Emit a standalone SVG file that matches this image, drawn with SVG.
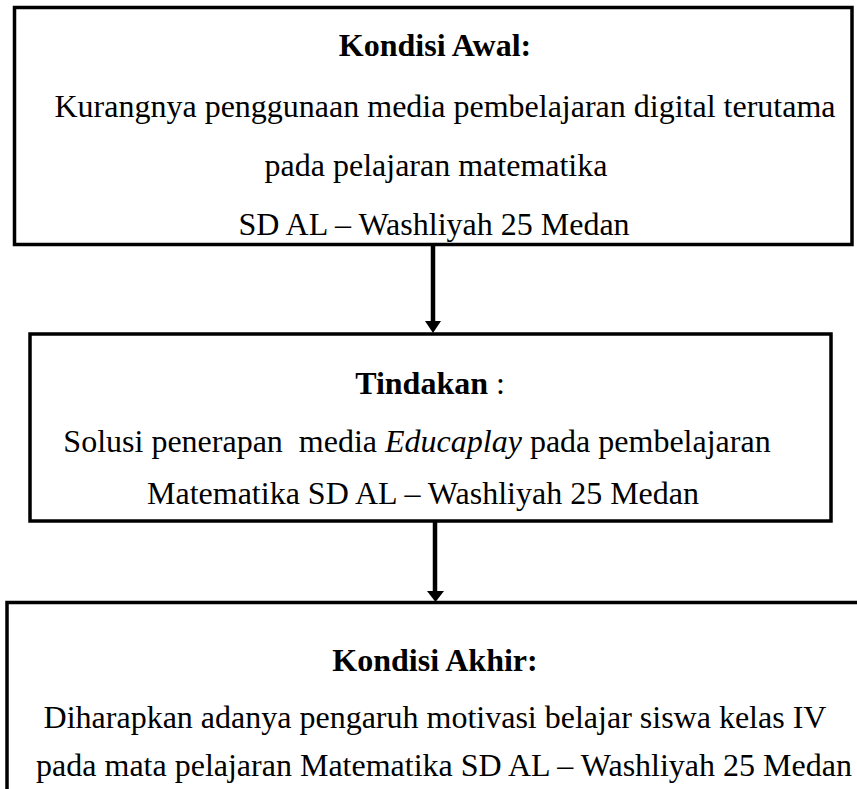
<svg xmlns="http://www.w3.org/2000/svg" width="857" height="789" viewBox="0 0 857 789">
<style>
.box{fill:#fff;stroke:#000;stroke-width:3.5}
.t{font-family:"Liberation Serif","Times New Roman",serif;font-size:32px;fill:#000;text-anchor:middle}
.b{font-weight:bold}
.edge{stroke:#000;stroke-width:4.5;fill:none}
</style>
<defs>
<marker id="ah" markerUnits="userSpaceOnUse" markerWidth="18" markerHeight="13" refX="9" refY="12" orient="auto-start-reverse" viewBox="0 0 18 13">
<path d="M0,0 L18,0 L9,12 Z" fill="#000" transform="rotate(0)"/>
</marker>
</defs>
<rect width="857" height="789" fill="#fff"/>
<g id="n1">
<rect class="box" x="14.5" y="7.5" width="837.5" height="237"/>
<text class="t b" x="435" y="56">Kondisi Awal:</text>
<text class="t" x="445" y="117">Kurangnya penggunaan media pembelajaran digital terutama</text>
<text class="t" x="436" y="176">pada pelajaran matematika</text>
<text class="t" x="434" y="235">SD AL – Washliyah 25 Medan</text>
</g>
<g id="n2">
<rect class="box" x="30" y="334" width="801" height="187"/>
<text class="t" x="430" y="394"><tspan class="b">Tindakan</tspan> :</text>
<text class="t" x="417" y="452" xml:space="preserve">Solusi penerapan  media <tspan font-style="italic">Educaplay</tspan> pada pembelajaran</text>
<text class="t" x="423" y="504">Matematika SD AL – Washliyah 25 Medan</text>
</g>
<g id="n3">
<rect class="box" x="7" y="602.5" width="870" height="220"/>
<text class="t b" x="435" y="671">Kondisi Akhir:</text>
<text class="t" x="435" y="728">Diharapkan adanya pengaruh motivasi belajar siswa kelas IV</text>
<text class="t" x="444" y="776">pada mata pelajaran Matematika SD AL – Washliyah 25 Medan</text>
</g>
<g id="edges">
<line class="edge" x1="433" y1="246" x2="433" y2="322"/>
<path d="M425,321 L441,321 L433,333 Z" fill="#000"/>
<line class="edge" x1="435" y1="522" x2="435" y2="592"/>
<path d="M427,591 L444,591 L435.5,602 Z" fill="#000"/>
</g>
</svg>
